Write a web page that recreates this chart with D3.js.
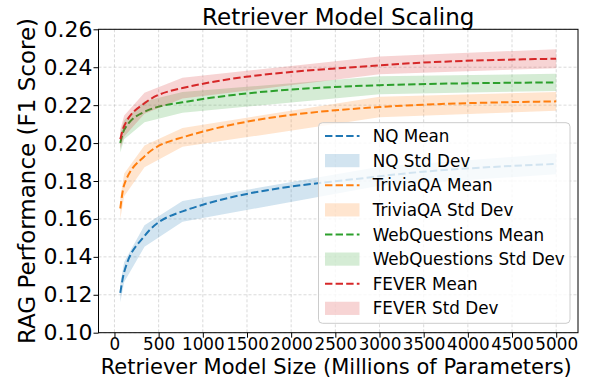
<!DOCTYPE html>
<html>
<head>
<meta charset="utf-8">
<script src="https://cdn.jsdelivr.net/npm/d3@7"></script>
<style>
  html, body { margin: 0; padding: 0; background: #fff; }
  svg { display: block; font-family: "DejaVu Sans", sans-serif; }
</style>
</head>
<body>
<svg id="chart" width="591" height="381"></svg>
<script>
// ---- data ----
const sizes = [66, 110, 340, 770, 3000, 5000];
const nqMean = [0.121, 0.132, 0.151, 0.164, 0.1825, 0.189];
const nqStd = [0.005, 0.0053, 0.0057, 0.0055, 0.005, 0.0055];
const triviaMean = [0.1655, 0.178, 0.193, 0.203, 0.219, 0.222];
const triviaStd = [0.0055, 0.006, 0.0057, 0.005, 0.0054, 0.005];
const webqMean = [0.200, 0.207, 0.2165, 0.2215, 0.2305, 0.232];
const webqStd = [0.005, 0.005, 0.0055, 0.0055, 0.0048, 0.0045];
const feverMean = [0.202, 0.209, 0.221, 0.229, 0.241, 0.2445];
const feverStd = [0.005, 0.0055, 0.0055, 0.0055, 0.0047, 0.005];
const seriesNames = ["NQ", "TriviaQA", "WebQuestions", "FEVER"];
const xTicks = [0, 500, 1000, 1500, 2000, 2500, 3000, 3500, 4000, 4500, 5000];
const yTicks = [0.10, 0.12, 0.14, 0.16, 0.18, 0.20, 0.22, 0.24, 0.26];

const colors = ["#1f77b4", "#ff7f0e", "#2ca02c", "#d62728"];
const means = [nqMean, triviaMean, webqMean, feverMean];
const stds = [nqStd, triviaStd, webqStd, feverStd];

const svg = d3.select("#chart");
const L = 98.5, R = 578, T = 29.3, B = 332.7;
const xPad = (d3.max(sizes) - d3.min(sizes)) * 0.05;
const x = d3.scaleLinear().domain([d3.min(sizes) - xPad, d3.max(sizes) + xPad]).range([L, R]);
const y = d3.scaleLinear().domain([0.10, 0.26]).range([B, T]);

// clip
svg.append("defs").append("clipPath").attr("id", "clip")
  .append("rect").attr("x", L).attr("y", T).attr("width", R - L).attr("height", B - T);

// grid
const grid = svg.append("g");
grid.selectAll("line.gx").data(xTicks).join("line")
  .attr("x1", d => x(d)).attr("x2", d => x(d)).attr("y1", T).attr("y2", B)
  .attr("stroke", "#b0b0b0").attr("stroke-opacity", 0.6).attr("stroke-width", 0.8)
  .attr("stroke-dasharray", "3,2");
grid.selectAll("line.gy").data(yTicks).join("line")
  .attr("x1", L).attr("x2", R).attr("y1", d => y(d)).attr("y2", d => y(d))
  .attr("stroke", "#b0b0b0").attr("stroke-opacity", 0.6).attr("stroke-width", 0.8)
  .attr("stroke-dasharray", "3,2");

const plot = svg.append("g").attr("clip-path", "url(#clip)");
const line = d3.line().x(d => x(d[0])).y(d => y(d[1])).curve(d3.curveMonotoneX);
const area = d3.area().x(d => x(d[0])).y0(d => y(d[1] - d[2])).y1(d => y(d[1] + d[2]));

means.forEach((m, i) => {
  const pts = sizes.map((s, j) => [s, m[j], stds[i][j]]);
  plot.append("path").datum(pts).attr("d", line)
    .attr("fill", "none").attr("stroke", colors[i]).attr("stroke-width", 2)
    .attr("stroke-dasharray", "7.4,3.2");
  plot.append("path").datum(pts).attr("d", area)
    .attr("fill", colors[i]).attr("fill-opacity", 0.2).attr("stroke", "none");
});

// frame
svg.append("rect").attr("x", L).attr("y", T).attr("width", R - L).attr("height", B - T)
  .attr("fill", "none").attr("stroke", "#000").attr("stroke-width", 1);

// axes
const xAxis = d3.axisBottom(x).tickValues(xTicks).tickFormat(d3.format("d")).tickSize(5).tickPadding(0);
const gx = svg.append("g").attr("transform", `translate(0,${B})`).call(xAxis);
gx.select(".domain").remove();
gx.selectAll("text").attr("font-size", "16.8px").attr("fill", "#000").attr("font-family", "DejaVu Sans");

const yAxis = d3.axisLeft(y).tickValues(yTicks).tickFormat(d3.format(".2f")).tickSize(5).tickPadding(1);
const gy = svg.append("g").attr("transform", `translate(${L},0)`).call(yAxis);
gy.select(".domain").remove();
gy.selectAll("text").attr("font-size", "22px").attr("fill", "#000").attr("font-family", "DejaVu Sans");

// title & labels
svg.append("text").attr("x", (L + R) / 2).attr("y", 24.5).attr("text-anchor", "middle")
  .attr("font-size", "23px").text("Retriever Model Scaling");
svg.append("text").attr("x", (L + R) / 2 - 2).attr("y", 374).attr("text-anchor", "middle")
  .attr("font-size", "21px").text("Retriever Model Size (Millions of Parameters)");
svg.append("text").attr("transform", `translate(35,${(T + B) / 2}) rotate(-90)`)
  .attr("text-anchor", "middle").attr("font-size", "23px").text("RAG Performance (F1 Score)");

// legend
const lg = svg.append("g");
lg.append("rect").attr("x", 318.5).attr("y", 122.7).attr("width", 251.5).attr("height", 200.6)
  .attr("rx", 4).attr("fill", "#fff").attr("fill-opacity", 0.8)
  .attr("stroke", "#cccccc").attr("stroke-width", 1);
const items = [];
seriesNames.forEach((n, i) => {
  items.push({ label: n + " Mean", type: "line", color: colors[i] });
  items.push({ label: n + " Std Dev", type: "patch", color: colors[i] });
});
items.forEach((it, k) => {
  const cy = 136 + k * 24.62;
  if (it.type === "line") {
    lg.append("line").attr("x1", 325).attr("x2", 359.5).attr("y1", cy).attr("y2", cy)
      .attr("stroke", it.color).attr("stroke-width", 2).attr("stroke-dasharray", "7.4,3.2");
  } else {
    lg.append("rect").attr("x", 325).attr("y", cy - 6.6).attr("width", 34.5).attr("height", 13.2)
      .attr("fill", it.color).attr("fill-opacity", 0.2);
  }
  lg.append("text").attr("x", 372.7).attr("y", cy).attr("dy", "0.36em")
    .attr("font-size", "16.8px").attr("fill", "#000").text(it.label);
});
</script>
</body>
</html>
